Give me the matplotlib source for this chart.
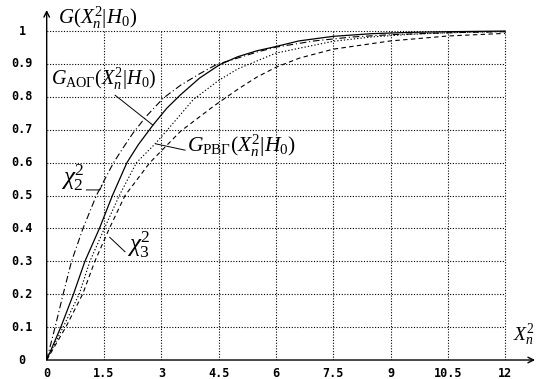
import matplotlib
matplotlib.use('Agg')
import matplotlib.pyplot as plt

plt.rcParams['mathtext.fontset'] = 'custom'
plt.rcParams['mathtext.rm'] = 'Liberation Serif'
plt.rcParams['mathtext.it'] = 'Liberation Serif:italic'

# curves
x_chi2 = [0, 0.22, 0.43, 0.65, 0.95, 1.3, 1.5, 1.75, 2.0, 2.26, 2.6, 3.05, 3.5, 4.0, 4.44,
          5, 5.5, 6, 7, 8, 9, 10, 11, 12]
y_chi2 = [0, 0.1, 0.2, 0.3, 0.4, 0.5, 0.545, 0.6, 0.645, 0.69, 0.74, 0.796, 0.835, 0.87, 0.898,
          0.918, 0.936, 0.951, 0.97, 0.982, 0.989, 0.993, 0.996, 0.998]

x_aog = [0, 0.37, 0.7, 1.0, 1.38, 1.72, 2.1, 2.4, 2.78, 3.14, 3.5, 4.0, 4.53, 5, 5.5, 6, 6.6,
         7.5, 8.5, 9.5, 10.5, 12]
y_aog = [0, 0.1, 0.2, 0.3, 0.4, 0.5, 0.6, 0.655, 0.714, 0.765, 0.806, 0.857, 0.898, 0.922, 0.94,
         0.953, 0.97, 0.984, 0.992, 0.996, 0.998, 1.0]

x_rvg = [0, 0.43, 0.85, 1.13, 1.51, 1.9, 2.35, 2.86, 3.2, 3.83, 4.5, 5, 6, 6.62, 7.5, 8.5, 9.5,
         10.5, 12]
y_rvg = [0, 0.1, 0.2, 0.3, 0.4, 0.5, 0.6, 0.66, 0.705, 0.791, 0.85, 0.885, 0.933, 0.948, 0.969,
         0.982, 0.99, 0.995, 0.999]

x_chi3 = [0, 0.5, 0.94, 1.26, 1.64, 2.05, 2.7, 3.5, 4.36, 5, 5.5, 6, 6.62, 7.5, 9, 10.5, 12]
y_chi3 = [0, 0.1, 0.2, 0.3, 0.4, 0.5, 0.6, 0.695, 0.771, 0.823, 0.86, 0.89, 0.918, 0.945, 0.97,
          0.985, 0.993]

xticks = [0, 1.5, 3, 4.5, 6, 7.5, 9, 10.5, 12]
xlabels = ['0', '1.5', '3', '4.5', '6', '7.5', '9', '10.5', '12']
yticks = [0, 0.1, 0.2, 0.3, 0.4, 0.5, 0.6, 0.7, 0.8, 0.9, 1]
ylabels = ['0', '0.1', '0.2', '0.3', '0.4', '0.5', '0.6', '0.7', '0.8', '0.9', '1']

fig = plt.figure(figsize=(5.41, 3.79), dpi=100)
ax = fig.add_axes([0.0863, 0.0501, 0.9027, 0.9235])
ax.set_xlim(0, 12.78)
ax.set_ylim(0, 1.064)
for s in ax.spines.values():
    s.set_visible(False)
ax.set_xticks([])
ax.set_yticks([])

# grid, only inside 0..12 x 0..1
for yv in yticks[1:]:
    ax.plot([-0.08, 12], [yv, yv], color='black', lw=0.8, ls=(0, (1, 1.5)))
for xv in xticks[1:]:
    ax.plot([xv, xv], [0, 1], color='black', lw=0.8, ls=(0, (1, 1.5)))

# axes with arrows
ax.annotate('', xy=(12.78, 0), xytext=(0, 0), annotation_clip=False,
            arrowprops=dict(arrowstyle='->', lw=1.0, color='black', shrinkA=0, shrinkB=0))
ax.annotate('', xy=(0, 1.064), xytext=(0, 0), annotation_clip=False,
            arrowprops=dict(arrowstyle='->', lw=1.0, color='black', shrinkA=0, shrinkB=0))

# tick labels
for xv, lab in zip(xticks, xlabels):
    ax.text(xv, -0.04, lab, ha='center', va='center', fontsize=8.5, fontweight='bold',
            family='DejaVu Sans Mono')
for yv, lab in zip(yticks, ylabels):
    ax.text(-0.64, yv, lab, ha='center', va='center', fontsize=8.5, fontweight='bold',
            family='DejaVu Sans Mono')

# curves
ax.plot(x_chi2, y_chi2, color='black', lw=0.8, ls=(0, (6, 2.5, 1, 2.5)))
ax.plot(x_aog, y_aog, color='black', lw=0.9)
ax.plot(x_rvg, y_rvg, color='black', lw=0.8, ls=(0, (1.2, 1.8)))
ax.plot(x_chi3, y_chi3, color='black', lw=0.8, ls=(0, (4, 3)))

# labels
ax.text(0.3, 1.04, r'$G(X_n^2|H_0)$', fontsize=15, va='center', ha='left')
ax.text(12.2, 0.075, r'$X_n^2$', fontsize=14, va='center', ha='left')
ax.text(0.12, 0.855, r'$G_{\mathrm{АОГ}}(X_n^2|H_0)$', fontsize=14.5, va='center', ha='left')
ax.text(3.67, 0.65, r'$G_{\mathrm{РВГ}}(X_n^2|H_0)$', fontsize=15.5, va='center', ha='left')
ax.text(0.38, 0.555, r'$\chi_2^2$', fontsize=18, va='center', ha='left')
ax.text(2.1, 0.35, r'$\chi_3^2$', fontsize=18, va='center', ha='left')

# pointers
ax.plot([1.79, 2.78], [0.805, 0.714], color='black', lw=0.7)
ax.plot([3.62, 2.86], [0.638, 0.657], color='black', lw=0.7)
ax.plot([1.04, 1.39, 1.45], [0.517, 0.517, 0.532], color='black', lw=0.7)
ax.plot([2.05, 1.65], [0.329, 0.373], color='black', lw=0.7)

fig.savefig('out.png', dpi=100)
